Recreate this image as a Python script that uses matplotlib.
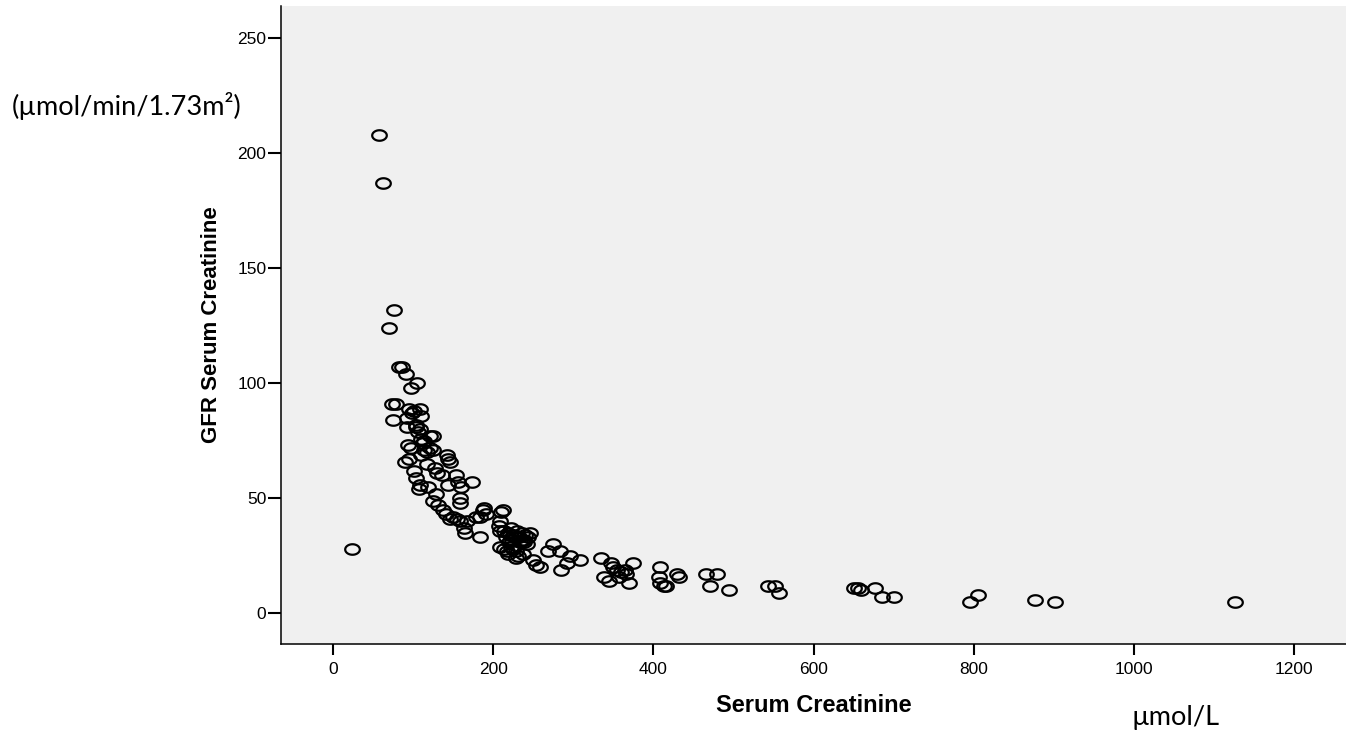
import matplotlib
matplotlib.use("Agg")
import matplotlib.pyplot as plt
from matplotlib.path import Path
import numpy as np

# serum creatinine (umol/L) vs GFR
serum_creatinine = [
    24, 57, 62, 76, 70, 82, 86, 91, 105, 97,
    74, 78, 95, 108, 98, 101, 110, 75, 92, 92, 104, 106, 108, 103, 121, 125,
    110, 112, 114, 93, 97, 121, 125, 113, 117, 110, 142, 144, 146, 90, 95, 117,
    101, 127, 130, 136, 154, 156, 173, 144, 104, 108, 107, 119, 158, 158, 129,
    125, 131, 137, 141, 146, 155, 158, 167, 163, 165, 183, 187, 183, 179, 150, 160,
    188, 191, 210, 212, 208, 207, 209, 214, 218, 222, 226, 230, 236, 240, 216,
    220, 224, 232, 238, 242, 244, 236, 208, 213, 217, 222, 225, 219, 228, 231,
    237, 229, 227, 233, 239, 221, 246,
    250, 254, 258, 275, 269, 283, 296, 308, 292, 285,
    335, 347, 350, 354, 360, 364, 366, 374, 338, 344, 357, 370,
    408, 407, 408, 413, 416, 429, 432, 466, 480, 471, 495, 543, 552, 557,
    651, 656, 659, 677, 685, 700, 795, 806, 877, 902, 1126,
]
gfr = [
    28, 208, 187, 132, 124, 107, 107, 104, 100, 98,
    91, 91, 89, 89, 87, 88, 86, 84, 85, 81, 81, 79, 80, 82, 77, 77,
    76, 74, 75, 73, 72, 72, 71, 71, 70, 69, 69, 67, 66, 66, 67, 65,
    62, 63, 61, 60, 60, 57, 57, 56, 59, 56, 54, 55, 50, 48, 52,
    49, 47, 45, 43, 41, 41, 40, 40, 37, 35, 42, 45, 33, 42, 42, 55,
    46, 43, 44, 45, 40, 38, 36, 36, 35, 37, 34, 36, 35, 34, 33,
    31, 32, 33, 31, 30, 33, 32, 29, 28, 27, 29, 28, 26, 27, 25,
    26, 24, 33, 31, 32, 34, 35,
    23, 21, 20, 30, 27, 27, 25, 23, 22, 19,
    24, 22, 20, 19, 18, 19, 17, 22, 16, 14, 16, 13,
    20, 16, 13, 12, 12, 17, 16, 17, 17, 12, 10, 12, 12, 9,
    11, 11, 10, 11, 7, 7, 5, 8, 6, 5, 5,
]

x_ticks = [0, 200, 400, 600, 800, 1000, 1200]
y_ticks = [0, 50, 100, 150, 200, 250]

# SPSS markers come out as flattened circles in this export
t = np.linspace(0, 2 * np.pi, 60)
ellipse = Path(np.column_stack([np.cos(t), 0.72 * np.sin(t)]), closed=True)

fig = plt.figure(figsize=(13.46, 7.33), dpi=100)
ax = fig.add_axes([281 / 1346, 1 - 644 / 733, 1 - 281 / 1346, (644 - 6) / 733])
ax.set_facecolor("#f0f0f0")

ax.plot(serum_creatinine, gfr, linestyle="none", marker=ellipse, markersize=10.5,
        markerfacecolor="none", markeredgecolor="black", markeredgewidth=1.6)

ax.set_xlim(-65, 1265)
ax.set_ylim(-13.3, 264)
ax.set_xticks(x_ticks)
ax.set_yticks(y_ticks)

for side in ["top", "right"]:
    ax.spines[side].set_visible(False)
for side in ["left", "bottom"]:
    ax.spines[side].set_linewidth(1.1)
    ax.spines[side].set_color("black")

ax.tick_params(axis="x", length=7.7, width=1.5, pad=5, labelsize=12.5)
ax.tick_params(axis="y", length=9.5, width=1.5, pad=1, labelsize=12.5)
for lab in ax.get_xticklabels() + ax.get_yticklabels():
    lab.set_family("Liberation Sans")

ax.set_xlabel("Serum Creatinine", fontsize=17, fontweight="bold",
              family="Liberation Sans", labelpad=0)
ax.xaxis.set_label_coords(0.5, -0.078)
ax.set_ylabel("GFR Serum Creatinine", fontsize=16, fontweight="bold",
              family="Liberation Sans")
ax.yaxis.set_label_coords(-0.0554, 0.5)

fig.text(127 / 1346, 1 - 106 / 733, "(µmol/min/1.73m²)", fontsize=19.5,
         family="Lato", ha="center", va="center")
fig.text(1176 / 1346, 1 - 717 / 733, "µmol/L", fontsize=19.5,
         family="Lato", ha="center", va="center")

fig.savefig("out.png", dpi=100)
